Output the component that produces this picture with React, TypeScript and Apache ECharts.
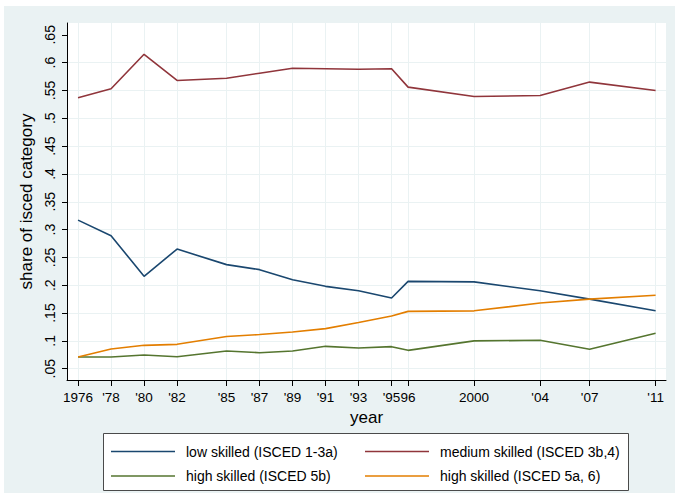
import React, { useEffect, useRef } from 'react';
import * as echarts from 'echarts';

const years = [1976, 1978, 1980, 1982, 1985, 1987, 1989, 1991, 1993, 1995, 1996, 2000, 2004, 2007, 2011];
const yearLabels = ['1976', "'78", "'80", "'82", "'85", "'87", "'89", "'91", "'93", "'95", '96', '2000', "'04", "'07", "'11"];
const yTicks = [0.05, 0.1, 0.15, 0.2, 0.25, 0.3, 0.35, 0.4, 0.45, 0.5, 0.55, 0.6, 0.65];
const yTickLabels = ['.05', '.1', '.15', '.2', '.25', '.3', '.35', '.4', '.45', '.5', '.55', '.6', '.65'];
const yGridValues = [0.05, 0.1, 0.15, 0.2, 0.25, 0.3, 0.35, 0.4, 0.45, 0.5, 0.55, 0.6];

const lowSkilled = [0.317, 0.289, 0.216, 0.265, 0.237, 0.228, 0.21, 0.198, 0.19, 0.177, 0.207, 0.206, 0.19, 0.175, 0.154];
const mediumSkilled = [0.537, 0.553, 0.615, 0.568, 0.572, 0.581, 0.59, 0.589, 0.588, 0.589, 0.556, 0.539, 0.541, 0.565, 0.55];
const highSkilled5b = [0.071, 0.071, 0.0746, 0.0716, 0.0818, 0.0788, 0.0818, 0.0902, 0.0872, 0.0896, 0.083, 0.1, 0.101, 0.0848, 0.1138];
const highSkilled5a6 = [0.071, 0.0854, 0.092, 0.0938, 0.108, 0.1114, 0.116, 0.122, 0.133, 0.1446, 0.153, 0.154, 0.168, 0.175, 0.182];

const seriesNames = [
  'low skilled (ISCED 1-3a)',
  'medium skilled (ISCED 3b,4)',
  'high skilled (ISCED 5b)',
  'high skilled (ISCED 5a, 6)',
];
const seriesColors = ['#1a476f', '#90353b', '#55752f', '#e37e00'];

export default function App() {
  const ref = useRef<HTMLDivElement>(null);
  useEffect(() => {
    const chart = echarts.init(ref.current!, null, { renderer: 'svg' });
    const font = '"Liberation Sans", Arial, sans-serif';
    const values = [lowSkilled, mediumSkilled, highSkilled5b, highSkilled5a6];
    const series = seriesNames.map((name, k) => ({
      name,
      type: 'line',
      data: years.map((y, i) => [y, values[k][i]]),
      symbol: 'none',
      showSymbol: false,
      lineStyle: { color: seriesColors[k], width: 1.6 },
      itemStyle: { color: seriesColors[k] },
      emphasis: { disabled: true },
    }));
    const legendPos = [
      [111, 444.5],
      [365, 444.5],
      [111, 469],
      [365, 469],
    ];
    const legends = seriesNames.map((name, k) => ({
      data: [name],
      left: legendPos[k][0],
      top: legendPos[k][1],
      padding: 0,
      icon: 'path://M0,0 M64,14 M0,6.25 L64,6.25 L64,7.75 L0,7.75 Z',
      itemWidth: 64,
      itemHeight: 14,
      selectedMode: false,
      textStyle: { fontFamily: font, fontSize: 14, color: '#000', padding: [0, 0, 0, 6] },
    }));
    const labelFor = (v: number) => {
      const i = years.indexOf(Math.round(v));
      return i >= 0 ? yearLabels[i] : '';
    };
    const yLabelFor = (v: number) => {
      let best = 0;
      for (let i = 0; i < yTicks.length; i++) {
        if (Math.abs(yTicks[i] - v) < Math.abs(yTicks[best] - v)) best = i;
      }
      return yTickLabels[best];
    };
    chart.setOption({
      animation: false,
      backgroundColor: '#ffffff',
      textStyle: { fontFamily: font },
      grid: {
        left: 67, right: 9, top: 23, bottom: 113,
        show: true, backgroundColor: '#ffffff', borderWidth: 0,
        containLabel: false, outerBoundsMode: 'none',
      },
      graphic: [
        { type: 'rect', silent: true, z: -100, shape: { x: 4, y: 6, width: 671, height: 487 }, style: { fill: '#eaf2f3' } },
        { type: 'rect', silent: true, z: 1, shape: { x: 103.5, y: 433.5, width: 525, height: 57 }, style: { fill: '#ffffff', stroke: '#4a4a4a', lineWidth: 1 } },
      ],
      legend: legends,
      xAxis: {
        type: 'value',
        min: 1975.33,
        max: 2011.63,
        name: 'year',
        nameLocation: 'middle',
        nameGap: 23,
        nameTextStyle: { fontFamily: font, fontSize: 17, color: '#000' },
        axisLine: { show: true, onZero: false, lineStyle: { color: '#000', width: 1 } },
        axisTick: { show: true, length: 6, customValues: years, lineStyle: { color: '#000', width: 1 } },
        axisLabel: { show: true, customValues: years, formatter: labelFor, fontFamily: font, fontSize: 13.5, color: '#000', margin: 10, hideOverlap: false },
        splitLine: { show: true, lineStyle: { color: '#eaf2f3', width: 1 } },
      },
      yAxis: [
        {
          type: 'value',
          min: 0.0297,
          max: 0.6712,
          position: 'left',
          name: 'share of isced category',
          nameLocation: 'middle',
          nameGap: 23,
          nameTextStyle: { fontFamily: font, fontSize: 17, color: '#000' },
          axisLine: { show: true, onZero: false, lineStyle: { color: '#000', width: 1 } },
          axisTick: { show: true, length: 5, customValues: yTicks, lineStyle: { color: '#000', width: 1 } },
          axisLabel: { show: true, customValues: yTicks, rotate: 90, formatter: yLabelFor, fontFamily: font, fontSize: 14, color: '#000', margin: 10 },
          splitLine: { show: false },
        },
        {
          type: 'value',
          min: 0.0297,
          max: 0.6712,
          position: 'left',
          axisLine: { show: false },
          axisTick: { show: false, customValues: yGridValues },
          axisLabel: { show: false, customValues: yGridValues },
          splitLine: { show: true, lineStyle: { color: '#eaf2f3', width: 1 } },
        },
      ],
      series,
    });
    return () => chart.dispose();
  }, []);
  return <div ref={ref} style={{ position: 'fixed', left: 0, top: 0, width: 675, height: 493 }} />;
}
